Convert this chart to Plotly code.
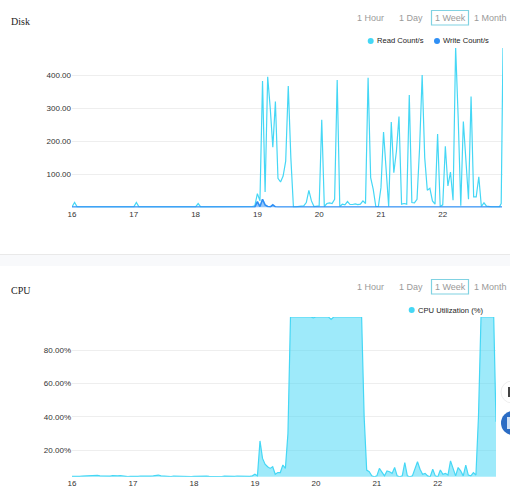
import plotly.graph_objects as go

DAY_LABELS = ["16", "17", "18", "19", "20", "21", "22"]
DAY_HOURS = [0, 24, 48, 72, 96, 120, 144]

READ_HOURS = list(range(167)) + [166.7, 167.4]
READ_VALUES = [
    2, 15, 2, 2, 2, 2, 2, 2, 2, 2, 2, 2, 2, 2, 2, 2, 2, 2, 2, 2, 2, 2, 2, 2,
    2, 15, 2, 2, 2, 2, 2, 2, 2, 2, 2, 2, 2, 2, 2, 2, 2, 2, 2, 2, 2, 2, 2, 2,
    2, 12, 2, 2, 2, 2, 2, 2, 2, 2, 2, 2, 2, 2, 2, 2, 2, 2, 2, 2, 2, 2, 3, 5,
    42, 20, 382, 47, 395, 300, 182, 320, 88, 77, 95, 140, 367, 150, 2, 2, 2, 4, 5, 15,
    52, 20, 3, 4, 5, 265, 3, 12, 14, 12, 25, 385, 3, 10, 8, 18, 9, 9, 11, 9,
    10, 20, 12, 392, 90, 55, 3, 3, 60, 228, 100, 3, 258, 105, 170, 275, 10, 12, 10, 340,
    15, 14, 25, 180, 400, 150, 52, 58, 20, 10, 222, 3, 8, 185, 65, 107, 22, 485, 270, 5,
    260, 130, 25, 335, 32, 32, 93, 3, 14, 4, 2, 2, 2, 2, 2, 12, 485,
]
WRITE_HOURS = list(range(168))
WRITE_VALUES = [1.5] * 72 + [18, 3, 25, 8, 3, 2, 8, 2] + [1.5] * 88

CPU_HOURS = list(range(167)) + [166.9]
CPU_VALUES = [
    4.2, 4.1, 4.3, 4.2, 4.4, 4.5, 4.6, 4.6, 4.5, 4.7, 4.8, 4.5, 4.4, 4.5, 4.3, 4.4, 4.6, 4.4, 4.5, 4.6, 4.3, 4.1, 4.0, 4.2,
    4.1, 4.4, 4.2, 4.4, 4.3, 4.4, 4.3, 4.4, 4.5, 4.6, 5.0, 4.5, 4.3, 4.2, 4.3, 4.1, 4.4, 4.3, 4.2, 4.3, 4.1, 4.1, 4.0, 4.1,
    4.2, 4.3, 4.2, 4.3, 4.2, 4.3, 4.2, 4.1, 4.3, 4.2, 4.1, 4.0, 4.3, 4.2, 4.4, 4.3, 4.2, 4.4, 4.3, 4.2, 4.3, 4.1, 4.2, 4.5,
    5.5, 4.5, 25.5, 15, 11.5, 10, 9, 10, 5.5, 6.5, 6.5, 11, 9, 30, 100, 100, 100, 100, 100, 100, 100, 100, 100, 99.5,
    100, 100, 100, 100, 100, 100, 98.5, 100, 100, 100, 100, 100, 100, 100, 100, 100, 100, 100, 100, 40, 8, 7, 4.5, 4,
    4.5, 9, 7, 4.5, 7.5, 7, 6, 9.5, 4.5, 4, 4.5, 12.5, 4.5, 4, 4.5, 8.5, 13, 8.5, 5.5, 6, 4.5, 4, 8.5, 4.5,
    4, 8, 5.5, 6, 5, 13.5, 9, 4.5, 9.5, 7.5, 4.5, 11, 5, 4.5, 6.5, 5, 40, 100, 100, 100, 100, 100, 100, 37,
]

DISK_TICKS = [100, 200, 300, 400]
DISK_TICK_TEXT = ["100.00", "200.00", "300.00", "400.00"]
CPU_TICKS = [20, 40, 60, 80]
CPU_TICK_TEXT = ["20.00%", "40.00%", "60.00%", "80.00%"]
RANGE_LABELS = ["1 Hour", "1 Day", "1 Week", "1 Month"]
RANGE_X = [370, 410.5, 450, 490.5]
READ_NAME = "Read Count/s"
WRITE_NAME = "Write Count/s"
CPU_NAME = "CPU Utilization (%)"

READ_COLOR = "#45d7f5"
WRITE_COLOR = "#2f8ff5"
GRID = "#eeeeee"
TICK_FONT = dict(family="Liberation Sans, Arial", size=8, color="#333333")
LEGEND_FONT = dict(family="Liberation Sans, Arial", size=7.6, color="#222222")


def px_x(v):
    return v / 510


def px_y(v):
    return 1 - v / 500


fig = go.Figure()
fig.add_trace(go.Scatter(x=READ_HOURS, y=READ_VALUES, mode="lines", xaxis="x", yaxis="y", name=READ_NAME,
                         line=dict(color=READ_COLOR, width=1.2), showlegend=False))
fig.add_trace(go.Scatter(x=WRITE_HOURS, y=WRITE_VALUES, mode="lines", xaxis="x", yaxis="y", name=WRITE_NAME,
                         line=dict(color=WRITE_COLOR, width=1.6), fill="tozeroy",
                         fillcolor="rgba(47,143,245,0.5)", showlegend=False))
fig.add_trace(go.Scatter(x=CPU_HOURS, y=CPU_VALUES, mode="lines", xaxis="x2", yaxis="y2", name=CPU_NAME,
                         line=dict(color=READ_COLOR, width=1.2), fill="tozeroy",
                         fillcolor="rgba(69,215,245,0.52)", showlegend=False))

annotations = []
for title, y in (("Disk", 21), ("CPU", 290)):
    annotations.append(dict(text=title, xref="paper", yref="paper", x=px_x(9), y=px_y(y), xanchor="left",
                            yanchor="middle", showarrow=False,
                            font=dict(family="Liberation Serif, Times New Roman", size=10, color="#222222")))
for y in (18, 287):
    for label, x in zip(RANGE_LABELS, RANGE_X):
        annotations.append(dict(text=label, xref="paper", yref="paper", x=px_x(x), y=px_y(y), xanchor="center",
                                yanchor="middle", showarrow=False,
                                font=dict(family="Liberation Sans, Arial", size=9, color="#9a9a9a")))
for name, x, y in ((READ_NAME, 375, 41), (WRITE_NAME, 441, 41), (CPU_NAME, 415.5, 310)):
    annotations.append(dict(text=name, xref="paper", yref="paper", x=px_x(x), y=px_y(y), xanchor="left",
                            yanchor="middle", showarrow=False, font=LEGEND_FONT))

shapes = [
    dict(type="rect", xref="paper", yref="paper", x0=0, x1=1, y0=px_y(266), y1=px_y(254),
         fillcolor="#f8f9fb", line_width=0, layer="below"),
    dict(type="line", xref="paper", yref="paper", x0=0, x1=1, y0=px_y(254.5), y1=px_y(254.5),
         line=dict(color="#e9e9e9", width=1), layer="below"),
]
for y in (10.5, 279.5):
    shapes.append(dict(type="rect", xref="paper", yref="paper", x0=px_x(431.5), x1=px_x(468.5), y0=px_y(y + 14.5),
                       y1=px_y(y), line=dict(color="#80d2e2", width=1.2), fillcolor="rgba(0,0,0,0)"))
for color, cx, cy in ((READ_COLOR, 370.7, 41), (WRITE_COLOR, 437, 41), (READ_COLOR, 411.7, 310)):
    shapes.append(dict(type="circle", xref="paper", yref="paper", x0=px_x(cx - 3), x1=px_x(cx + 3),
                       y0=px_y(cy + 3), y1=px_y(cy - 3), fillcolor=color, line_width=0))
shapes += [
    dict(type="circle", xref="paper", yref="paper", x0=px_x(501), x1=px_x(523), y0=px_y(403), y1=px_y(381),
         fillcolor="#ffffff", line=dict(color="#eeeeee", width=1)),
    dict(type="rect", xref="paper", yref="paper", x0=px_x(508), x1=px_x(511), y0=px_y(397), y1=px_y(387),
         fillcolor="#444444", line_width=0),
    dict(type="circle", xref="paper", yref="paper", x0=px_x(501), x1=px_x(525), y0=px_y(435), y1=px_y(411),
         fillcolor="#2b6cc4", line_width=0),
    dict(type="rect", xref="paper", yref="paper", x0=px_x(507), x1=px_x(511), y0=px_y(429), y1=px_y(417),
         fillcolor="#cfe0f5", line_width=0),
]

common_y = dict(showgrid=True, gridcolor=GRID, gridwidth=1.3, zeroline=False, showline=False, ticks="",
                tickfont=TICK_FONT, tickmode="array", automargin=False)
common_x = dict(showgrid=False, zeroline=False, showline=False, ticks="", tickfont=TICK_FONT,
                tickmode="array", tickvals=DAY_HOURS, ticktext=DAY_LABELS, automargin=False)

fig.update_layout(
    width=510, height=500, margin=dict(l=0, r=0, t=0, b=0, autoexpand=False),
    paper_bgcolor="#ffffff", plot_bgcolor="#ffffff", hovermode=False, showlegend=False,
    xaxis=dict(domain=[px_x(72), px_x(503)], range=[0, 167.4], anchor="y", **common_x),
    yaxis=dict(domain=[px_y(207.5), px_y(48)], range=[0, 482], anchor="x",
               tickvals=DISK_TICKS, ticktext=DISK_TICK_TEXT, **common_y),
    xaxis2=dict(domain=[px_x(72), px_x(496)], range=[0, 166.9], anchor="y2", **common_x),
    yaxis2=dict(domain=[px_y(476.7), px_y(317)], range=[4, 100], anchor="x2",
                tickvals=CPU_TICKS, ticktext=CPU_TICK_TEXT, **common_y),
    annotations=annotations, shapes=shapes,
)

fig.write_html("out.html", config=dict(displayModeBar=False),
               post_script="document.body.style.margin='0';")
